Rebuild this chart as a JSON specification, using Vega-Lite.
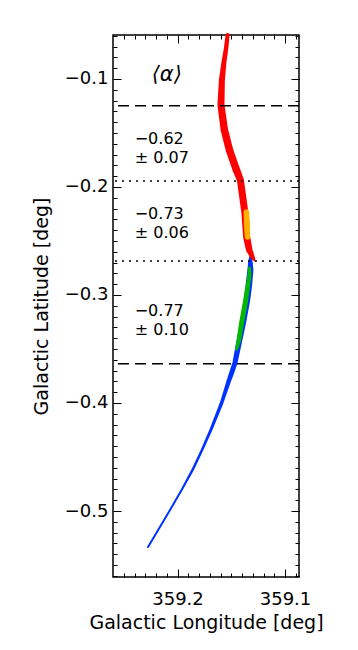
{
  "$schema": "https://vega.github.io/schema/vega-lite/v6.json",
  "width": 186,
  "height": 542,
  "autosize": {"type": "none"},
  "padding": {"left": 113, "top": 35, "right": 59, "bottom": 73},
  "background": "white",
  "datasets": {
    "blue": [
      {"lat": -0.2639, "lon": 359.1322, "thickness": 2},
      {"lat": -0.2694, "lon": 359.1322, "thickness": 4.5},
      {"lat": -0.2769, "lon": 359.1322, "thickness": 6},
      {"lat": -0.2907, "lon": 359.1336, "thickness": 6.5},
      {"lat": -0.3046, "lon": 359.1354, "thickness": 6.5},
      {"lat": -0.3259, "lon": 359.1391, "thickness": 6},
      {"lat": -0.3491, "lon": 359.1438, "thickness": 5.5},
      {"lat": -0.3630, "lon": 359.1466, "thickness": 5},
      {"lat": -0.3713, "lon": 359.1494, "thickness": 5},
      {"lat": -0.3787, "lon": 359.1520, "thickness": 4.5},
      {"lat": -0.4000, "lon": 359.1590, "thickness": 3.5},
      {"lat": -0.4250, "lon": 359.1690, "thickness": 3},
      {"lat": -0.4435, "lon": 359.1772, "thickness": 2.5},
      {"lat": -0.4620, "lon": 359.1860, "thickness": 2.5},
      {"lat": -0.4806, "lon": 359.1962, "thickness": 2},
      {"lat": -0.4991, "lon": 359.2070, "thickness": 2},
      {"lat": -0.5176, "lon": 359.2180, "thickness": 2},
      {"lat": -0.5333, "lon": 359.2274, "thickness": 2}
    ],
    "green": [
      {"lat": -0.2750, "lon": 359.1331, "thickness": 3},
      {"lat": -0.2815, "lon": 359.1331, "thickness": 4},
      {"lat": -0.3046, "lon": 359.1365, "thickness": 5},
      {"lat": -0.3259, "lon": 359.1404, "thickness": 5},
      {"lat": -0.3417, "lon": 359.1429, "thickness": 4.5},
      {"lat": -0.3500, "lon": 359.1450, "thickness": 3}
    ],
    "red": [
      {"lat": -0.0593, "lon": 359.1534, "thickness": 4},
      {"lat": -0.0731, "lon": 359.1550, "thickness": 4.5},
      {"lat": -0.0852, "lon": 359.1569, "thickness": 5},
      {"lat": -0.1009, "lon": 359.1587, "thickness": 6},
      {"lat": -0.1241, "lon": 359.1596, "thickness": 7},
      {"lat": -0.1472, "lon": 359.1564, "thickness": 7.5},
      {"lat": -0.1657, "lon": 359.1517, "thickness": 7.5},
      {"lat": -0.1843, "lon": 359.1452, "thickness": 7.5},
      {"lat": -0.1935, "lon": 359.1415, "thickness": 7},
      {"lat": -0.2074, "lon": 359.1396, "thickness": 7},
      {"lat": -0.2241, "lon": 359.1373, "thickness": 7},
      {"lat": -0.2463, "lon": 359.1357, "thickness": 7},
      {"lat": -0.2583, "lon": 359.1333, "thickness": 6.5},
      {"lat": -0.2657, "lon": 359.1298, "thickness": 4},
      {"lat": -0.2685, "lon": 359.1280, "thickness": 1.5}
    ],
    "orange": [
      {"lat": -0.2231, "lon": 359.1359, "thickness": 5.5},
      {"lat": -0.2352, "lon": 359.1354, "thickness": 6},
      {"lat": -0.2463, "lon": 359.1349, "thickness": 5.5}
    ],
    "bounds": [
      {"lat": -0.1247, "kind": "dashed"},
      {"lat": -0.1944, "kind": "dotted"},
      {"lat": -0.2685, "kind": "dotted"},
      {"lat": -0.3636, "kind": "dashed"}
    ],
    "notes": [
      {"lat": -0.1602, "lon": 359.2398, "label": ["−0.62", "± 0.07"]},
      {"lat": -0.2296, "lon": 359.2398, "label": ["−0.73", "± 0.06"]},
      {"lat": -0.3192, "lon": 359.2398, "label": ["−0.77", "± 0.10"]}
    ],
    "heading": [
      {"lat": -0.0963, "lon": 359.2100, "label": "⟨α⟩"}
    ]
  },
  "resolve": {"axis": {"x": "independent", "y": "independent"}},
  "layer": [
    {
      "data": {"name": "blue"},
      "mark": {"type": "trail", "color": "#0032ff"},
      "encoding": {
        "x": {"field": "lon", "type": "quantitative",
          "scale": {"domain": [359.087, 359.26], "reverse": true, "nice": false, "zero": false},
          "axis": {"orient": "bottom", "values": [359.1, 359.2], "format": ".1f", "tickSize": -8, "labelPadding": 21, "title": "Galactic Longitude [deg]", "titlePadding": 5}},
        "y": {"field": "lat", "type": "quantitative",
          "scale": {"domain": [-0.5611, -0.0593], "nice": false, "zero": false},
          "axis": {"orient": "left", "values": [-0.1, -0.2, -0.3, -0.4, -0.5], "format": ".1f", "tickSize": -8, "labelPadding": 13, "title": "Galactic Latitude [deg]", "titlePadding": 13}},
        "order": {"field": "lat", "sort": "descending"},
        "size": {"field": "thickness", "type": "quantitative", "scale": {"domain": [0, 10], "range": [0, 10]}, "legend": null}
      }
    },
    {
      "data": {"name": "green"},
      "mark": {"type": "trail", "color": "#00b800"},
      "encoding": {
        "x": {"field": "lon", "type": "quantitative",
          "axis": {"orient": "bottom", "values": [359.09, 359.1, 359.11, 359.12, 359.13, 359.14, 359.15, 359.16, 359.17, 359.18, 359.19, 359.2, 359.21, 359.22, 359.23, 359.24, 359.25], "tickSize": -4, "labels": false, "title": null}},
        "y": {"field": "lat", "type": "quantitative",
          "axis": {"orient": "left", "values": [-0.06, -0.07, -0.08, -0.09, -0.1, -0.11, -0.12, -0.13, -0.14, -0.15, -0.16, -0.17, -0.18, -0.19, -0.2, -0.21, -0.22, -0.23, -0.24, -0.25, -0.26, -0.27, -0.28, -0.29, -0.3, -0.31, -0.32, -0.33, -0.34, -0.35, -0.36, -0.37, -0.38, -0.39, -0.4, -0.41, -0.42, -0.43, -0.44, -0.45, -0.46, -0.47, -0.48, -0.49, -0.5, -0.51, -0.52, -0.53, -0.54, -0.55, -0.56], "tickSize": -4, "labels": false, "title": null}},
        "order": {"field": "lat", "sort": "descending"},
        "size": {"field": "thickness", "type": "quantitative", "scale": {"domain": [0, 10], "range": [0, 10]}, "legend": null}
      }
    },
    {
      "data": {"name": "red"},
      "mark": {"type": "trail", "color": "#ff0000"},
      "encoding": {
        "x": {"field": "lon", "type": "quantitative",
          "axis": {"orient": "top", "values": [359.1, 359.2], "tickSize": -8, "labels": false, "title": null}},
        "y": {"field": "lat", "type": "quantitative",
          "axis": {"orient": "right", "values": [-0.1, -0.2, -0.3, -0.4, -0.5], "tickSize": -8, "labels": false, "title": null}},
        "order": {"field": "lat", "sort": "descending"},
        "size": {"field": "thickness", "type": "quantitative", "scale": {"domain": [0, 10], "range": [0, 10]}, "legend": null}
      }
    },
    {
      "data": {"name": "orange"},
      "mark": {"type": "trail", "color": "#ffb000"},
      "encoding": {
        "x": {"field": "lon", "type": "quantitative",
          "axis": {"orient": "top", "values": [359.09, 359.1, 359.11, 359.12, 359.13, 359.14, 359.15, 359.16, 359.17, 359.18, 359.19, 359.2, 359.21, 359.22, 359.23, 359.24, 359.25], "tickSize": -4, "labels": false, "title": null}},
        "y": {"field": "lat", "type": "quantitative",
          "axis": {"orient": "right", "values": [-0.06, -0.07, -0.08, -0.09, -0.1, -0.11, -0.12, -0.13, -0.14, -0.15, -0.16, -0.17, -0.18, -0.19, -0.2, -0.21, -0.22, -0.23, -0.24, -0.25, -0.26, -0.27, -0.28, -0.29, -0.3, -0.31, -0.32, -0.33, -0.34, -0.35, -0.36, -0.37, -0.38, -0.39, -0.4, -0.41, -0.42, -0.43, -0.44, -0.45, -0.46, -0.47, -0.48, -0.49, -0.5, -0.51, -0.52, -0.53, -0.54, -0.55, -0.56], "tickSize": -4, "labels": false, "title": null}},
        "order": {"field": "lat", "sort": "descending"},
        "size": {"field": "thickness", "type": "quantitative", "scale": {"domain": [0, 10], "range": [0, 10]}, "legend": null}
      }
    },
    {
      "data": {"name": "bounds"},
      "mark": {"type": "rule", "color": "black", "strokeWidth": 1.5},
      "encoding": {
        "y": {"field": "lat", "type": "quantitative", "axis": null},
        "strokeDash": {"field": "kind", "type": "nominal", "scale": {"domain": ["dashed", "dotted"], "range": [[11, 6], [2, 5]]}, "legend": null}
      }
    },
    {
      "data": {"name": "notes"},
      "mark": {"type": "text", "align": "left", "baseline": "alphabetic", "lineHeight": 19, "font": "DejaVu Sans", "fontSize": 16, "color": "black"},
      "encoding": {
        "x": {"field": "lon", "type": "quantitative", "axis": null},
        "y": {"field": "lat", "type": "quantitative", "axis": null},
        "text": {"field": "label"}
      }
    },
    {
      "data": {"name": "heading"},
      "mark": {"type": "text", "align": "center", "baseline": "middle", "font": "DejaVu Sans", "fontSize": 21, "fontStyle": "italic", "color": "black"},
      "encoding": {
        "x": {"field": "lon", "type": "quantitative", "axis": null},
        "y": {"field": "lat", "type": "quantitative", "axis": null},
        "text": {"field": "label"}
      }
    }
  ],
  "config": {
    "view": {"stroke": "black", "strokeWidth": 1.5},
    "axis": {
      "domain": false, "grid": false,
      "tickColor": "black", "tickWidth": 1,
      "labelColor": "black", "labelFont": "DejaVu Sans", "labelFontSize": 18,
      "titleColor": "black", "titleFont": "DejaVu Sans", "titleFontSize": 19, "titleFontWeight": "normal"
    }
  }
}
